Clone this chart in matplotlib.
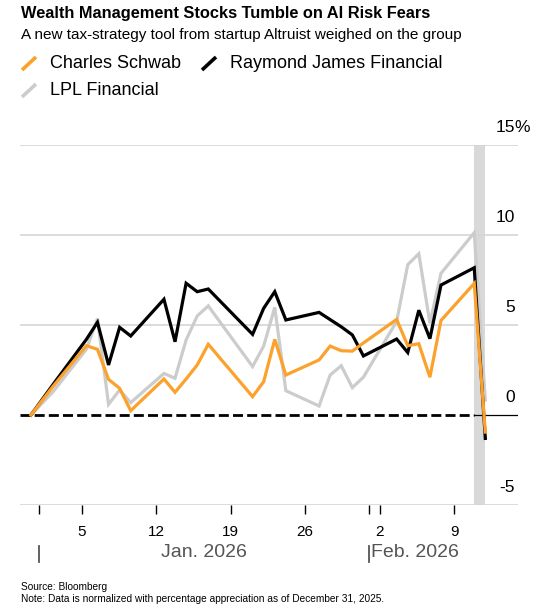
import numpy as np
import pandas as pd
import matplotlib
matplotlib.use("Agg")
import matplotlib.pyplot as plt
import matplotlib.transforms as mtransforms
from matplotlib.lines import Line2D

plt.rcParams['font.family'] = ['Liberation Sans', 'DejaVu Sans']

# trading days and % change since Dec 31, 2025
dates = ['2025-12-31', '2026-01-02', '2026-01-05', '2026-01-06', '2026-01-07',
         '2026-01-08', '2026-01-09', '2026-01-12', '2026-01-13', '2026-01-14',
         '2026-01-15', '2026-01-16', '2026-01-20', '2026-01-21', '2026-01-22',
         '2026-01-23', '2026-01-26', '2026-01-27', '2026-01-28', '2026-01-29',
         '2026-01-30', '2026-02-02', '2026-02-03', '2026-02-04', '2026-02-05',
         '2026-02-06', '2026-02-09', '2026-02-10']
schwab = [0, 1.6, 3.85, 3.65, 1.98, 1.48, 0.24, 2.0, 1.26, 2.0,
          2.78, 3.93, 1.02, 1.85, 4.2, 2.22, 3.06, 3.83, 3.57, 3.55,
          4.0, 5.31, 3.85, 3.96, 2.1, 5.25, 7.31, -0.95]
raymond = [0, 1.7, 4.2, 5.15, 2.78, 4.87, 4.39, 6.43, 4.07, 7.32,
           6.85, 7.0, 4.48, 5.93, 6.85, 5.28, 5.7, 5.3, 4.9, 4.45,
           3.28, 4.22, 3.47, 5.82, 4.24, 7.22, 8.18, -1.3]
lpl = [0, 1.3, 3.65, 5.35, 0.59, 1.39, 0.69, 2.31, 2.04, 4.17,
       5.5, 6.06, 2.69, 3.83, 5.98, 1.35, 0.5, 2.22, 2.74, 1.52,
       2.1, 5.2, 8.35, 8.96, 5.1, 7.87, 10.13, 0.83]

yticks = [-5, 0, 5, 10, 15]
tick_days = ['2026-01-01', '2026-01-05', '2026-01-12', '2026-01-19', '2026-01-26',
             '2026-02-01', '2026-02-02', '2026-02-09']
tick_labels = ['', '5', '12', '19', '26', '', '2', '9']
months = [('2026-01-01', 'Jan. 2026'), ('2026-02-01', 'Feb. 2026')]

base = pd.Timestamp('2025-12-31')
x = np.array([(pd.Timestamp(d) - base).days for d in dates])
tx = np.array([(pd.Timestamp(d) - base).days for d in tick_days])

ORANGE = '#fca12b'
GRAY = '#cccccc'

fig = plt.figure(figsize=(5.44, 6.07), dpi=100)
ax = fig.add_axes([20/544, 1-505/607, 498/544, 360/607])
ax.set_xlim(-0.99, 43.95)
ax.set_ylim(-5, 15)

for v in yticks:
    if v != 0:
        ax.axhline(v, color='#d6d6d6', lw=1.2, zorder=1)

# shaded last session
ax.axvspan(x[-2], x[-1], color='#d9d9d9', lw=0, zorder=0)

ax.plot([ax.get_xlim()[0], x[-2]], [0, 0], color='black', lw=2.0,
        dashes=(3.6, 1.5), zorder=2)
ax.plot([x[-2], ax.get_xlim()[1]], [0, 0], color='black', lw=0.9, zorder=2)

ax.plot(x, lpl, color=GRAY, lw=2.3, zorder=3, solid_joinstyle='miter')
ax.plot(x, raymond, color='black', lw=2.3, zorder=4, solid_joinstyle='miter')
ax.plot(x, schwab, color=ORANGE, lw=2.3, zorder=5, solid_joinstyle='miter')

for s in ax.spines.values():
    s.set_visible(False)
ax.set_xticks([])
ax.set_yticks([])

# y labels on the right, above gridlines
ytr = mtransforms.offset_copy(ax.get_yaxis_transform(), fig=fig, x=0, y=7, units='points')
for v in yticks:
    ax.text(0.994, v, str(v), transform=ytr, ha='right', va='bottom', fontsize=12.5)
    if v == 15:
        ax.text(0.992, v, '%', transform=ytr, ha='left', va='bottom', fontsize=12.5)

# date ticks on their own scale
ax2 = ax.twiny()
ax2.set_xlim(-0.8, 46.0)
ax2.xaxis.set_ticks_position('bottom')
ax2.xaxis.set_label_position('bottom')
ax2.set_xticks(tx)
ax2.set_xticklabels(tick_labels, fontsize=11)
ax2.tick_params(axis='x', length=6.5, width=1.0, color='black', pad=8)
for s in ax2.spines.values():
    s.set_visible(False)

mtr = ax2.get_xaxis_transform()
m0 = (pd.Timestamp(months[0][0]) - base).days
m1 = (pd.Timestamp(months[1][0]) - base).days
for md, _ in months:
    d = (pd.Timestamp(md) - base).days
    ax2.add_line(Line2D([d, d], [-0.114, -0.158], transform=mtr, color='#555555',
                        lw=1.3, clip_on=False))
ax2.text((m0 + m1) / 2, -0.131, months[0][1], transform=mtr, ha='center', va='center',
         fontsize=14, color='#555555')
ax2.text(m1 + 0.2, -0.131, months[1][1], transform=mtr, ha='left', va='center',
         fontsize=14, color='#555555')

# title block
fig.text(21/544, 1-18/607, 'Wealth Management Stocks Tumble on AI Risk Fears',
         fontsize=11.8, fontweight='bold', va='baseline')
fig.text(21/544, 1-39.5/607, 'A new tax-strategy tool from startup Altruist weighed on the group',
         fontsize=11, va='baseline')

# legend
legend = [(ORANGE, 'Charles Schwab', 21, 68), ('black', 'Raymond James Financial', 201, 68),
          (GRAY, 'LPL Financial', 21, 95)]
for col, name, lx, ly in legend:
    fig.add_artist(Line2D([(lx + 1)/544, (lx + 15)/544], [1-(ly + 2)/607, 1-(ly - 11)/607],
                          color=col, lw=2.6, solid_capstyle='butt'))
    fig.text((lx + 29)/544, 1-ly/607, name, fontsize=13, va='baseline')

fig.text(21/544, 1-590/607, 'Source: Bloomberg', fontsize=7.3, va='baseline',
         family=['Liberation Sans Narrow', 'Liberation Sans'])
fig.text(21/544, 1-602/607,
         'Note: Data is normalized with percentage appreciation as of December 31, 2025.',
         fontsize=7.3, va='baseline', family=['Liberation Sans Narrow', 'Liberation Sans'])

fig.savefig('out.png', dpi=100)
